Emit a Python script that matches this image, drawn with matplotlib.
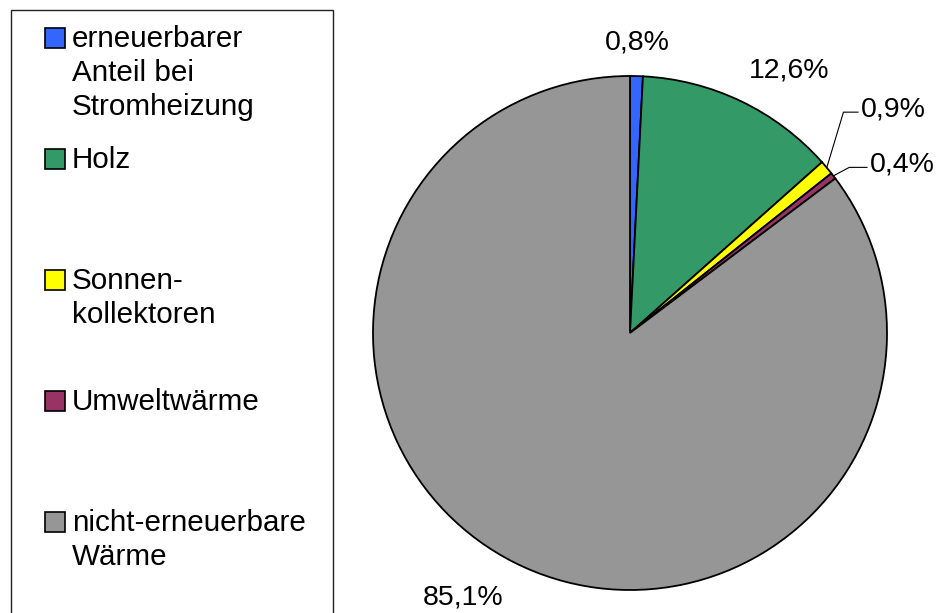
import matplotlib.pyplot as plt
import matplotlib.patches as mpatches
import numpy as np

plt.rcParams['font.family'] = ['Liberation Sans', 'DejaVu Sans']

# Daten
labels = ["erneuerbarer\nAnteil bei\nStromheizung", "Holz", "Sonnen-\nkollektoren",
          "Umweltwärme", "nicht-erneuerbare\nWärme"]
values = [0.8, 12.6, 0.9, 0.4, 85.1]
value_text = ["0,8%", "12,6%", "0,9%", "0,4%", "85,1%"]
colors = ['#3366FF', '#339966', '#FFFF00', '#993366', '#969696']

W, H = 937, 613
fig = plt.figure(figsize=(W / 100, H / 100), dpi=100)
fig.patch.set_facecolor('white')

# Kreis: Mitte bei (630, 333) px, Radius 257 px
cx, cy, R = 630, 333, 257
lim = 1.3
ax = fig.add_axes([(cx - lim * R) / W, (H - cy - lim * R) / H, 2 * lim * R / W, 2 * lim * R / H])

wedges, _ = ax.pie(values, colors=colors, startangle=90, counterclock=False, radius=1.0,
                   wedgeprops=dict(edgecolor='black', linewidth=1.3))
ax.set_xlim(-lim, lim)   # pie() setzt eigene Grenzen, daher danach
ax.set_ylim(-lim, lim)
ax.axis('off')

fs = 20.5
# Beschriftungen (Position in Dateneinheiten)
text_pos = {0: (0.03, 1.13), 1: (0.62, 1.02), 4: (-0.65, -1.03)}
for i, w in enumerate(wedges):
    if i in text_pos:
        ax.text(*text_pos[i], value_text[i], ha='center', va='center', fontsize=fs, clip_on=False)

# Führungslinien für die kleinen Segmente
leader = {2: (0.065, 0.216, 0.887, 0.900), 3: (0.062, 0.033, 0.922, 0.935)}
for i, (dx, dy, xend, xtxt) in leader.items():
    w = wedges[i]
    mid = np.deg2rad((w.theta1 + w.theta2) / 2)
    ex, ey = np.cos(mid), np.sin(mid)
    ax.plot([ex, ex + dx, xend], [ey, ey + dy, ey + dy], color='black', lw=0.8, clip_on=False)
    ax.text(xtxt, ey + dy + 0.01, value_text[i], ha='left', va='center', fontsize=fs, clip_on=False)

# Legende (manuell, gleichmäßige Abstände)
fig.patches.append(mpatches.Rectangle((11 / W, -0.05), (333 - 11) / W, (H - 10) / H + 0.05,
                                      transform=fig.transFigure, fill=False,
                                      edgecolor='#222222', linewidth=1.0))
step = 121
line_h = 34
for i, lab in enumerate(labels):
    ytop = 28 + i * step
    fig.patches.append(mpatches.Rectangle((45 / W, (H - ytop - 20) / H), 20 / W, 20 / H,
                                          transform=fig.transFigure, facecolor=colors[i],
                                          edgecolor='black', linewidth=1.2))
    for k, line in enumerate(lab.split("\n")):
        base = ytop + 19 + k * line_h
        fig.text(72 / W, (H - base) / H, line, ha='left', va='baseline', fontsize=21.3,
                 transform=fig.transFigure)

fig.savefig('out.png', dpi=100, facecolor='white')
